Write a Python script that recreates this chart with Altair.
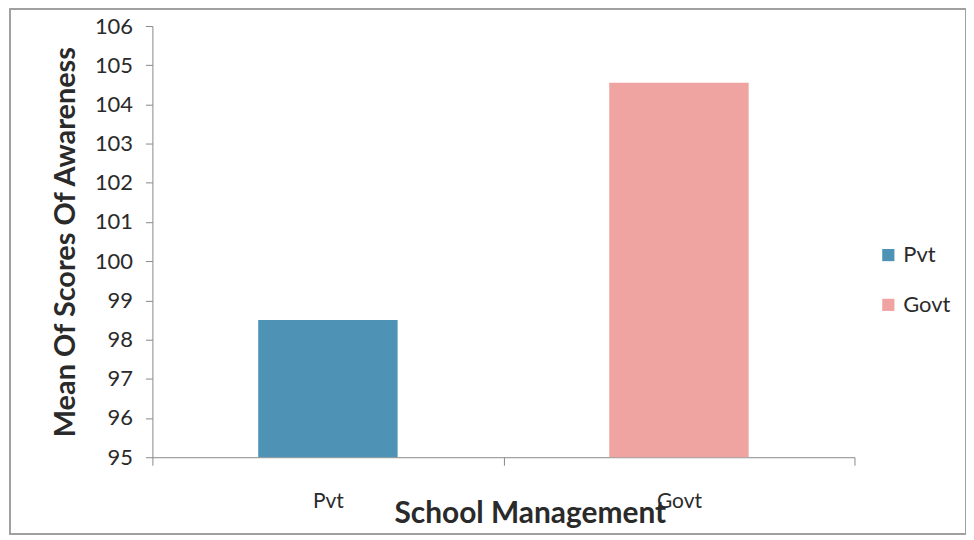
import altair as alt
import pandas as pd

categories = ["Pvt", "Govt"]
values = [98.5, 104.55]
colors = ["#4e93b5", "#f0a4a2"]

df = pd.DataFrame({"School Management": categories, "Mean": values})

FONT = "Lato"

bars = alt.Chart(df).mark_bar(size=140, clip=True).encode(
    x=alt.X(
        "School Management:N",
        sort=categories,
        scale=alt.Scale(paddingInner=0, paddingOuter=0),
        axis=alt.Axis(
            title="School Management",
            labelAngle=0,
            tickBand="extent",
            tickSize=8,
            labelPadding=25,
            labelFontSize=21,
            labelFont=FONT,
            labelColor="#2a2a2a",
            titleFontSize=30,
            titleFont=FONT,
            titleFontWeight="bold",
            titleColor="#2a2a2a",
            titleX=379,
            titleY=57,
            titleBaseline="middle",
            domainColor="#888888",
            tickColor="#888888",
        ),
    ),
    y=alt.Y(
        "Mean:Q",
        scale=alt.Scale(domain=[95, 106], nice=False, zero=False),
        axis=alt.Axis(
            title="Mean Of Scores Of Awareness",
            values=list(range(95, 107)),
            grid=False,
            tickSize=7,
            labelPadding=13,
            labelFontSize=22,
            labelFont=FONT,
            labelColor="#2a2a2a",
            titleFontSize=29,
            titleFont=FONT,
            titleFontWeight="bold",
            titleColor="#2a2a2a",
            titlePadding=14,
            domainColor="#888888",
            tickColor="#888888",
        ),
    ),
    color=alt.Color(
        "School Management:N",
        sort=categories,
        scale=alt.Scale(domain=categories, range=colors),
        legend=alt.Legend(
            title=None,
            orient="none",
            legendX=728,
            legendY=219,
            symbolType="square",
            symbolSize=150,
            symbolStrokeWidth=0,
            labelFontSize=22,
            labelFont=FONT,
            labelColor="#2a2a2a",
            rowPadding=28,
        ),
    ),
)

border = alt.Chart(df).mark_rect(
    fill=None, stroke="#9a9a9a", strokeWidth=1.5
).encode(
    x=alt.value(-143), x2=alt.value(817),
    y=alt.value(-17), y2=alt.value(510),
)

chart = alt.layer(border, bars).properties(
    width=705,
    height=433,
    autosize=alt.AutoSizeParams(type="none"),
    padding={"left": 145, "top": 17, "right": 112, "bottom": 80},
).configure_view(stroke=None)

chart.save("out.html", embed_options={"renderer": "svg", "actions": False})
